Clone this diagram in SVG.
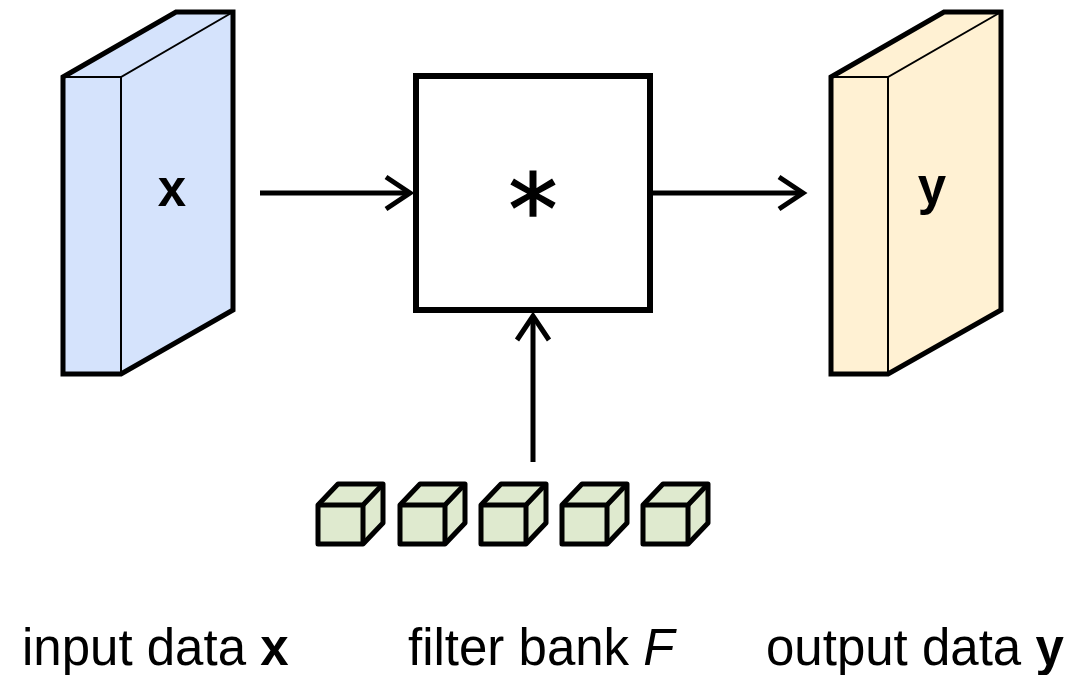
<svg xmlns="http://www.w3.org/2000/svg" width="1088" height="675" viewBox="0 0 1088 675">
<style>
.out{stroke:#000;stroke-width:5;stroke-linejoin:miter;}
.thin{stroke:#000;stroke-width:2;fill:none;}
.cube{stroke:#000;stroke-width:5;fill:#dfeacf;stroke-linejoin:round;}
.cedge{stroke:#000;stroke-width:5;fill:none;stroke-linejoin:round;}
.lbl{font-family:"Liberation Sans",Arial,sans-serif;font-size:51px;fill:#000;}
.conn{stroke:#000;stroke-width:5;fill:none;}
.head{stroke:#000;stroke-width:5;fill:none;stroke-linecap:butt;stroke-linejoin:miter;}
</style>
<defs>
<g id="cubeShape">
<polygon class="cube" points="0,21 20,0 65,0 65,39 45,60 0,60"/>
<polyline class="cedge" points="0,21 45,21 65,0"/>
<line class="cedge" x1="45" y1="21" x2="45" y2="60"/>
</g>
</defs>
<g id="input-x">
<polygon class="out" fill="#d5e3fc" points="63,77 176,12 233,12 233,310 121,374 63,374"/>
<polyline class="thin" points="63,77 121,77 233,12"/>
<line class="thin" x1="121" y1="77" x2="121" y2="374"/>
<text class="lbl" x="172" y="206" text-anchor="middle" font-weight="bold" font-size="46">x</text>
</g>
<g id="conv">
<rect x="416" y="76" width="234" height="234" fill="#fff" stroke="#000" stroke-width="6"/>
<text x="533" y="244" text-anchor="middle" font-family="'DejaVu Sans',sans-serif" font-size="98" stroke="#000" stroke-width="1.5">*</text>
</g>
<g id="output-y">
<polygon class="out" fill="#fff1d3" points="831,77 944,12 1001,12 1001,310 888,374 831,374"/>
<polyline class="thin" points="831,77 888,77 1001,12"/>
<line class="thin" x1="888" y1="77" x2="888" y2="374"/>
<text class="lbl" x="932" y="204" text-anchor="middle" font-weight="bold" font-size="46">y</text>
</g>
<g id="filter-bank">
<use href="#cubeShape" x="318" y="484"/>
<use href="#cubeShape" x="400" y="484"/>
<use href="#cubeShape" x="481" y="484"/>
<use href="#cubeShape" x="562" y="484"/>
<use href="#cubeShape" x="643" y="484"/>
</g>
<g id="connectors">
<line class="conn" x1="260" y1="193" x2="410" y2="193"/>
<polyline class="head" points="386,177 410,193 386,209"/>
<line class="conn" x1="653" y1="193" x2="803" y2="193"/>
<polyline class="head" points="779,177 803,193 779,209"/>
<line class="conn" x1="533" y1="462" x2="533" y2="316"/>
<polyline class="head" points="517,340 533,316 549,340"/>
</g>
<g id="labels">
<text class="lbl" x="22" y="665">input data <tspan font-weight="bold">x</tspan></text>
<text class="lbl" x="408" y="665">filter bank <tspan font-style="italic">F</tspan></text>
<text class="lbl" x="766" y="665">output data <tspan font-weight="bold">y</tspan></text>
</g>
</svg>
